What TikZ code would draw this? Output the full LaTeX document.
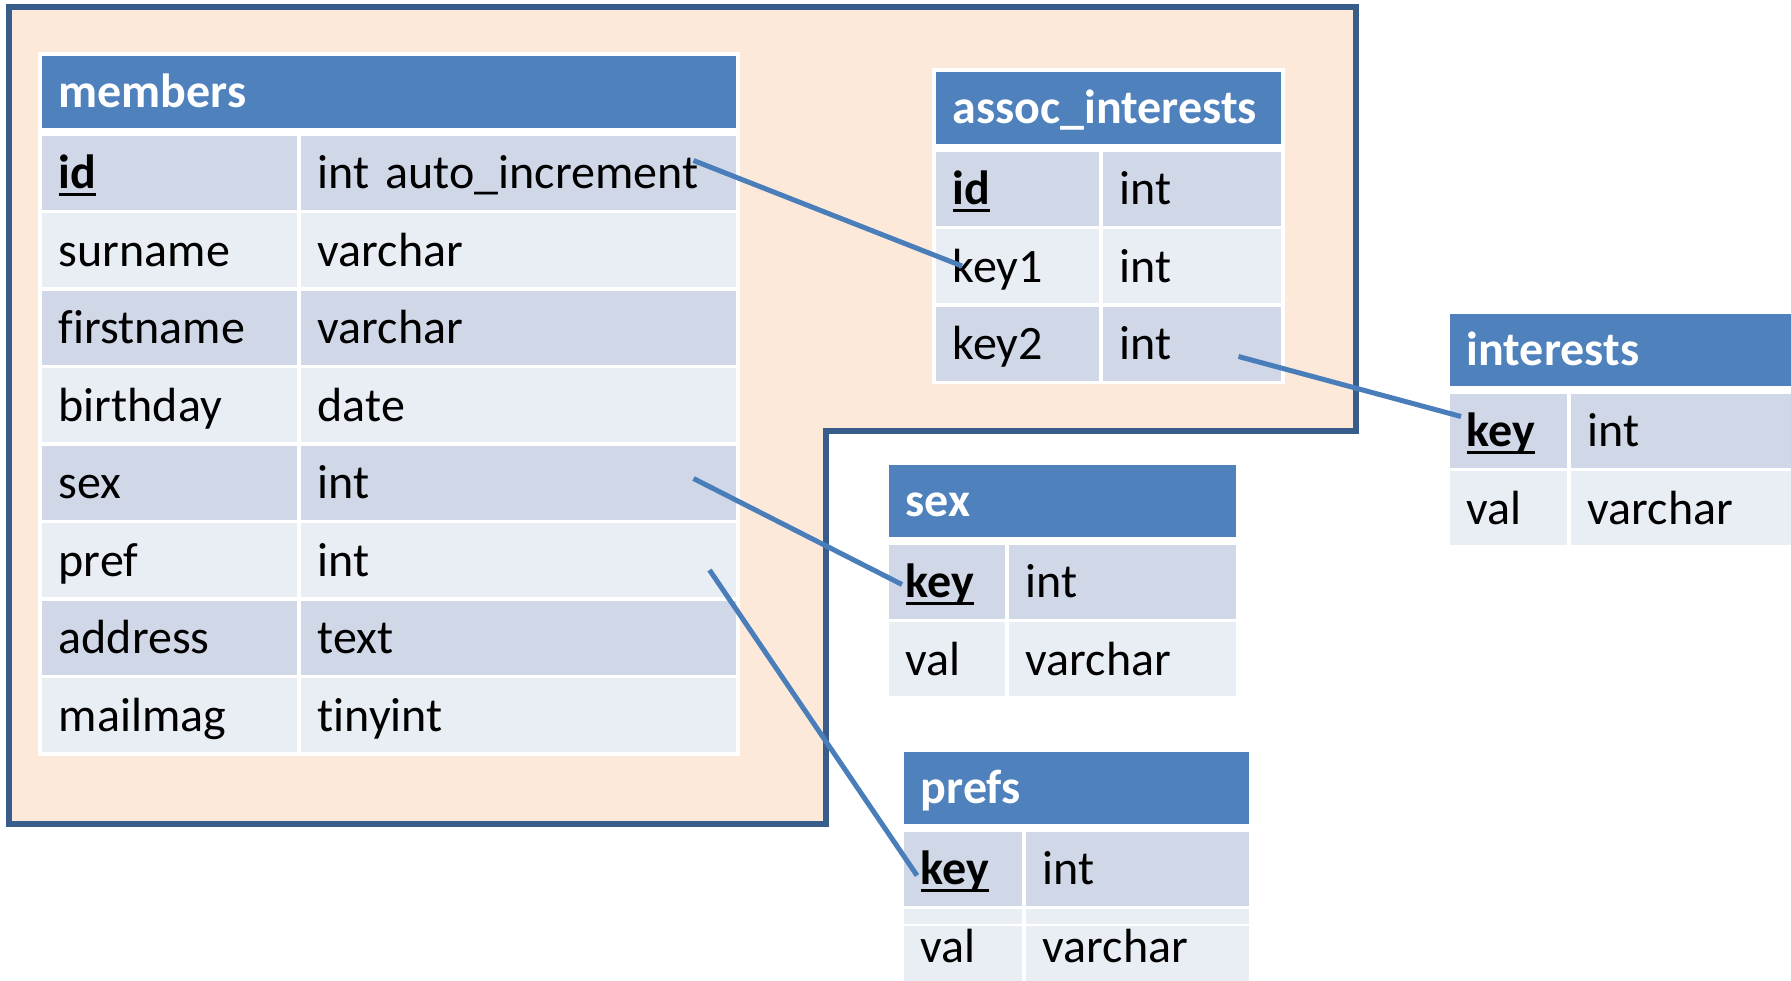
\documentclass[tikz,border=0pt]{standalone}
\usepackage{fontspec}
\setmainfont{Carlito}[RawFeature={-liga;-calt;-dlig}]
\usetikzlibrary{calc}
\definecolor{hdrblue}{HTML}{4F81BD}
\definecolor{banddark}{HTML}{D0D8E8}
\definecolor{bandlight}{HTML}{E9EDF4}
\definecolor{peach}{HTML}{FDE9D9}
\definecolor{outline}{HTML}{385D8A}
\definecolor{linkblue}{HTML}{4A7EBB}
\newcommand\keyul[1]{\setbox0\hbox{\bfseries #1}\rlap{\rule[-7pt]{\wd0}{3pt}}\box0}
\newcommand\cellfont{\fontsize{48}{56}\selectfont\spaceskip=8pt\relax}
\tikzset{
  cell/.style={draw=white, line width=3.5pt, anchor=north west, inner xsep=19pt, inner ysep=0pt,
    align=left, text height=38pt, text depth=6pt, font=\cellfont, text=black},
  hdrcell/.style={cell, fill=hdrblue, text=white, font=\cellfont\bfseries, minimum height=76pt},
  rowcell/.style={cell, minimum height=77.5pt},
  link/.style={draw=linkblue, line width=5pt},
  region/.style={fill=peach, draw=outline, line width=5.5pt, line join=miter},
}
% #1 name, #2 title, #3 x, #4 y, #5 width col1, #6 width col2, #7 rows
\newcommand\dbtable[7]{%
  \pgfmathsetmacro\hdrw{#5+#6-38}%
  \node[hdrcell, text width=\hdrw pt] (#1-h) at (#3,#4) {#2};
  \foreach \f/\g [count=\i] in {#7} {
    \pgfmathsetmacro\ry{#4+80+(\i-1)*77.5}
    \pgfmathsetmacro\wa{#5-38}
    \pgfmathsetmacro\wb{#6-38}
    \ifodd\i \def\bandcol{banddark}\else\def\bandcol{bandlight}\fi
    \node[rowcell, fill=\bandcol, text width=\wa pt] (#1-k\i) at (#3,\ry) {\f};
    \node[rowcell, fill=\bandcol, text width=\wb pt] (#1-t\i) at (#3+#5,\ry) {\g};
  }
}
\begin{document}
\begin{tikzpicture}[x=1pt,y=-1pt]
\useasboundingbox (0,0) rectangle (1791,980);
\clip (0,0) rectangle (1791,980);
\fill[white] (0,0) rectangle (1791,980);
% shaded region
\draw[region] (9,7) -- (1356,7) -- (1356,431) -- (826,431) -- (826,824) -- (9,824) -- cycle;
% tables
\dbtable{members}{members}{38}{52}{259}{439}{%
  \keyul{id}/int auto\_increment, surname/varchar, firstname/varchar, birthday/date,
  sex/int, pref/int, address/text, mailmag/tinyint}
\dbtable{assoc}{assoc\_interests}{932}{68}{167}{182}{%
  \keyul{id}/int, key1/int, key2/int}
\dbtable{interests}{interests}{1446}{310}{121}{240}{%
  \keyul{key}/int, val/varchar}
\dbtable{sex}{sex}{885}{461}{120}{231}{%
  \keyul{key}/int, val/varchar}
\dbtable{prefs}{prefs}{900}{748}{122}{227}{%
  \keyul{key}/int, val/varchar}
\draw[white, line width=1.5pt] ([yshift=-19.5pt]prefs-k2.north west) -- ([yshift=-19.5pt]prefs-t2.north east);
% connector end points
\coordinate (l1a) at ([shift={(-46pt,12pt)}]members-t1.east);
\coordinate (l1b) at ([shift={(30pt,0pt)}]assoc-k2.west);
\coordinate (l2a) at ([shift={(-46pt,-13pt)}]assoc-t3.east);
\coordinate (l2b) at ([shift={(15pt,14pt)}]interests-k1.west);
\coordinate (l3a) at ([shift={(-46pt,4pt)}]members-t5.east);
\coordinate (l3b) at ([shift={(17pt,-3pt)}]sex-k1.west);
\coordinate (l4a) at ([shift={(-30pt,-10pt)}]members-t6.east);
\coordinate (l4b) at ([shift={(17pt,-7pt)}]prefs-k1.west);
\draw[link] (l1a) -- (l1b);
\draw[link] (l2a) -- (l2b);
\draw[link] (l3a) -- (l3b);
\draw[link] (l4a) -- (l4b);
\end{tikzpicture}
\end{document}
